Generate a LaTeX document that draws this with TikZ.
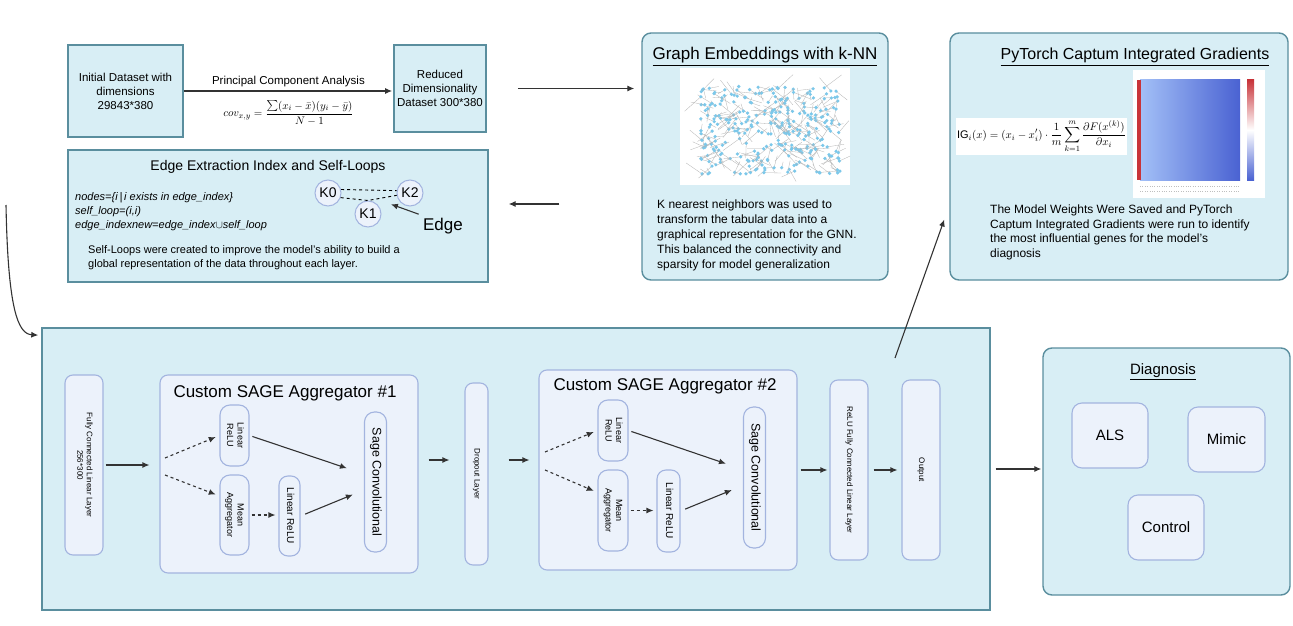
\documentclass[tikz,border=0pt]{standalone}
\usepackage{amsmath}
\usepackage{fontspec}
\setmainfont{Liberation Sans}
\usetikzlibrary{shapes,arrows,arrows.meta,positioning,calc}
\definecolor{boxfill}{HTML}{D8EEF5}
\definecolor{boxline}{HTML}{5A8E9E}
\definecolor{cellfill}{HTML}{ECF2FB}
\definecolor{cellline}{HTML}{A3B4DF}
\definecolor{dotblue}{HTML}{7CC8EA}
\definecolor{arrowgray}{HTML}{333333}
\definecolor{heatred}{HTML}{C8343A}
\definecolor{heatlight}{HTML}{A3C0F7}
\definecolor{heatblue}{HTML}{4A62D2}
\newcommand{\fsz}[2]{\fontsize{#1}{#2}\selectfont}
\newcommand{\vtxt}[1]{\rotatebox{-90}{\begin{tabular}{@{}c@{}}#1\end{tabular}}}

\begin{document}
\begin{tikzpicture}[x=1pt,y=-1pt,
  outer/.style={rectangle, draw=boxline, fill=boxfill, line width=1.4pt},
  outerround/.style={outer, rounded corners=9pt},
  cell/.style={rectangle, rounded corners=8pt, draw=cellline, fill=cellfill, line width=1.1pt, inner sep=2pt},
  arr/.style={-{Latex[length=7pt,width=6pt]}, draw=arrowgray, line width=1.1pt},
  darr/.style={arr, dash pattern=on 3pt off 3pt},
  knode/.style={circle, draw=cellline, fill=cellfill, line width=1pt, inner sep=1pt, minimum size=26pt}]
\useasboundingbox (0,0) rectangle (1293,626);

\node[outer, minimum width=115pt, minimum height=92pt, align=center, font=\fsz{11.5}{14}] (init) at (125.5,91) {Initial Dataset with\\dimensions\\29843*380};
\node[outer, minimum width=88pt, minimum height=87pt, align=center, font=\fsz{11.5}{14}] (reduced) at (440,88.5) {Reduced\\Dimensionality\\Dataset 300*380};
\draw[arr, shorten >=1pt] (init.east) -- node[above, font=\fsz{11.5}{14}] (pcalbl) {Principal Component Analysis} node[below=6pt, font=\fsz{11}{13}] (covlbl) {$cov_{x,y}=\dfrac{\sum(x_i-\bar{x})(y_i-\bar{y})}{N-1}$} (init.east -| reduced.west);

\node[outerround, minimum width=246pt, minimum height=247pt] (graph) at (765,156.5) {};
\node[font=\fsz{17}{20}] (graphttl) at (765,57) {\underline{Graph Embeddings with k-NN}};
\node[fill=white, minimum width=170pt, minimum height=117pt] (knnimg) at (765,126.5) {};
\begin{scope}
\clip (knnimg.south west) rectangle (knnimg.north east);
\pgfmathsetseed{42}
\foreach \i in {1,...,300}{
  \pgfmathsetmacro{\ax}{700+140*rnd}
  \pgfmathsetmacro{\ay}{86+88*rnd}
  \pgfmathsetmacro{\bx}{\ax+36*rnd-18}
  \pgfmathsetmacro{\by}{\ay+30*rnd-15}
  \draw[gray!60, line width=0.3pt] (\ax,\ay) -- (\bx,\by);
  \fill[dotblue] (\ax,\ay) circle[radius=1.8pt];
}
\end{scope}
\node[anchor=north west, align=left, font=\fsz{12}{15}, inner sep=0pt] (graphtxt) at (657,200) {K nearest neighbors was used to\\transform the tabular data into a\\graphical representation for the GNN.\\This balanced the connectivity and\\sparsity for model generalization};

\node[outerround, minimum width=338pt, minimum height=247pt] (ig) at (1119,156.5) {};
\node[font=\fsz{16}{20}] (igttl) at (1135,57) {\underline{PyTorch Captum Integrated Gradients}};
\node[fill=white, minimum width=167pt, minimum height=37pt, inner sep=1pt, font=\fsz{11}{12}] (igeq) at (1041.5,136.5) {$\displaystyle\mathrm{IG}_i(x)=(x_i-x_i')\cdot\frac{1}{m}\sum_{k=1}^{m}\frac{\partial F(x^{(k)})}{\partial x_i}$};
\node[fill=white, minimum width=132pt, minimum height=128pt] (heatimg) at (1199,134) {};
\shade[left color=heatlight, right color=heatblue] (1140,80) rectangle (1240,180);
\fill[heatred] (1137,80) rectangle (1141,180);
\shade[top color=heatred, bottom color=heatblue, middle color=white] (1247,80) rectangle (1254,180);
\draw[gray!50, dotted] (1140,186) -- (1240,186);
\draw[gray!50, dotted] (1140,191) -- (1240,191);
\node[anchor=north west, align=left, font=\fsz{12}{14.5}, inner sep=0pt] (igtxt) at (990,205) {The Model Weights Were Saved and PyTorch\\Captum Integrated Gradients were run to identify\\the most influential genes for the model's\\diagnosis};

\node[outer, minimum width=420pt, minimum height=132pt] (edgebox) at (278,216) {};
\node[font=\fsz{14}{17}] (edgettl) at (268,167) {Edge Extraction Index and Self-Loops};
\node[anchor=north west, align=left, font=\fsz{11}{14}\itshape, inner sep=0pt] (edgeset) at (75,192) {nodes=\{i\,|\,i exists in edge\_index\}\\self\_loop=(i,i)\\edge\_indexnew=edge\_index$\cup$self\_loop};
\node[knode, font=\fsz{14}{16}] (k0) at (328,193) {K0};
\node[knode, font=\fsz{14}{16}] (k2) at (410,193) {K2};
\node[knode, font=\fsz{14}{16}] (k1) at (368,214) {K1};
\draw[dashed, line width=0.9pt] (k0.15) -- (k2.170);
\draw[dashed, line width=0.9pt] (k0.-20) -- (k1.north) -- (k2.190);
\node[font=\fsz{17}{20}] (edgelbl) at (443,226) {Edge};
\draw[arr, shorten <=1pt, shorten >=2pt] (edgelbl.north west) -- ($(k1)!0.5!(k2)$);
\node[anchor=north west, align=left, font=\fsz{11}{14.5}, inner sep=0pt] (looptxt) at (88,245) {Self-Loops were created to improve the model's ability to build a\\global representation of the data throughout each layer.};

\draw[arr, shorten <=31pt, shorten >=7pt] (reduced.east) -- (reduced.east -| graph.west);
\draw[arr, shorten <=82pt, shorten >=20pt] ($(graph.west |- edgebox.east)+(0,-12)$) -- ($(edgebox.east)+(0,-12)$);

\node[outer, minimum width=948pt, minimum height=282pt] (main) at (516,469) {};
\coordinate (loopstart) at (6,205);
\draw[arr, shorten >=3pt] (loopstart) .. controls (8,310) and (18,334) .. ($(main.north west)+(0,8)$);

\node[cell, minimum width=38pt, minimum height=180pt, font=\fsz{8}{9.5}] (fc1) at (84,465) {\vtxt{Fully Connected Linear Layer\\256*300}};

\node[cell, minimum width=258pt, minimum height=198pt] (agg1) at (289,474) {};
\node[font=\fsz{17}{20}] (agg1ttl) at (285,393) {Custom SAGE Aggregator \#1};
\node[cell, rounded corners=10pt, minimum width=29pt, minimum height=61pt, font=\fsz{9}{10.5}] (lin1a) at (234.5,435.5) {\vtxt{Linear\\ReLU}};
\node[cell, rounded corners=10pt, minimum width=29pt, minimum height=80pt, font=\fsz{9}{10.5}] (mean1) at (234.5,515) {\vtxt{Mean\\Aggregator}};
\node[cell, rounded corners=9pt, minimum width=21pt, minimum height=80pt, font=\fsz{10}{12}] (lin1b) at (289.5,516) {\vtxt{Linear ReLU}};
\node[cell, rounded corners=10pt, minimum width=22pt, minimum height=140pt, font=\fsz{12.5}{14}] (sage1) at (375.5,482) {\vtxt{Sage Convolutional}};
\coordinate (split1a) at (165,458);
\coordinate (split1b) at (165,475);
\draw[darr, shorten >=4pt] (split1a) -- (lin1a.west);
\draw[darr, shorten >=4pt] (split1b) -- ($(mean1.west)+(0,-19)$);
\draw[darr, shorten <=2pt, shorten >=3pt] (mean1.east) -- (mean1.east -| lin1b.west);
\draw[arr, shorten <=3pt, shorten >=18pt] (lin1a.east) -- ($(sage1.west)+(0,-8)$);
\draw[arr, shorten <=5pt, shorten >=12pt] (lin1b.east) -- ($(sage1.west)+(0,8)$);

\node[cell, minimum width=23pt, minimum height=182pt, font=\fsz{8}{9.5}] (drop) at (476.5,474) {\vtxt{Dropout Layer}};

\node[cell, minimum width=258pt, minimum height=200pt] (agg2) at (668,470) {};
\node[font=\fsz{17}{20}] (agg2ttl) at (665,386) {Custom SAGE Aggregator \#2};
\node[cell, rounded corners=10pt, minimum width=30pt, minimum height=61pt, font=\fsz{9}{10.5}] (lin2a) at (613,430.5) {\vtxt{Linear\\ReLU}};
\node[cell, rounded corners=10pt, minimum width=30pt, minimum height=81pt, font=\fsz{9}{10.5}] (mean2) at (613,510.5) {\vtxt{Mean\\Aggregator}};
\node[cell, rounded corners=9pt, minimum width=23pt, minimum height=82pt, font=\fsz{10}{12}] (lin2b) at (668.5,511) {\vtxt{Linear ReLU}};
\node[cell, rounded corners=10pt, minimum width=22pt, minimum height=141pt, font=\fsz{12.5}{14}] (sage2) at (754.5,477.5) {\vtxt{Sage Convolutional}};
\coordinate (split2a) at (545,452);
\coordinate (split2b) at (545,470);
\draw[darr, shorten >=4pt] (split2a) -- (lin2a.west);
\draw[darr, shorten >=4pt] (split2b) -- ($(mean2.west)+(0,-18)$);
\draw[darr, shorten <=2pt, shorten >=3pt] (mean2.east) -- (mean2.east -| lin2b.west);
\draw[arr, shorten <=3pt, shorten >=18pt] (lin2a.east) -- ($(sage2.west)+(0,-8)$);
\draw[arr, shorten <=5pt, shorten >=12pt] (lin2b.east) -- ($(sage2.west)+(0,8)$);

\node[cell, minimum width=38pt, minimum height=180pt, font=\fsz{8}{9.5}] (fc2) at (849,470) {\vtxt{ReLU Fully Connected Linear Layer}};
\node[cell, minimum width=38pt, minimum height=180pt, font=\fsz{8}{9.5}] (out) at (921,470) {\vtxt{Output}};

\draw[arr, shorten <=2pt, shorten >=10pt] (fc1.east) -- (fc1.east -| agg1.west);
\draw[arr, shorten <=10pt, shorten >=15pt] ($(agg1.east)+(0,-14)$) -- ($(agg1.east -| drop.west)+(0,-14)$);
\draw[arr, shorten <=20pt, shorten >=9pt] ($(drop.east)+(0,-14)$) -- ($(drop.east -| agg2.west)+(0,-14)$);
\draw[arr, shorten <=3pt, shorten >=2pt] (agg2) -- (fc2);
\draw[arr, shorten <=5pt, shorten >=4pt] (fc2) -- (out);

\coordinate (igstart) at (895,358);
\draw[arr] (igstart) -- ($(ig.west)+(-5,63)$);

\node[outerround, minimum width=247pt, minimum height=247pt] (diag) at (1166.5,471.5) {};
\node[font=\fsz{15}{18}] (diagttl) at (1163,372) {\underline{Diagnosis}};
\node[cell, rounded corners=10pt, minimum width=76pt, minimum height=65pt, font=\fsz{15}{18}] (als) at (1110,435.5) {ALS};
\node[cell, rounded corners=10pt, minimum width=77pt, minimum height=65pt, font=\fsz{15}{18}] (mimic) at (1226.5,439.5) {Mimic};
\node[cell, rounded corners=10pt, minimum width=76pt, minimum height=65pt, font=\fsz{15}{18}] (control) at (1166,527.5) {Control};
\draw[arr, shorten <=5pt, shorten >=1pt] (main.east) -- (main.east -| diag.west);
\end{tikzpicture}
\end{document}
